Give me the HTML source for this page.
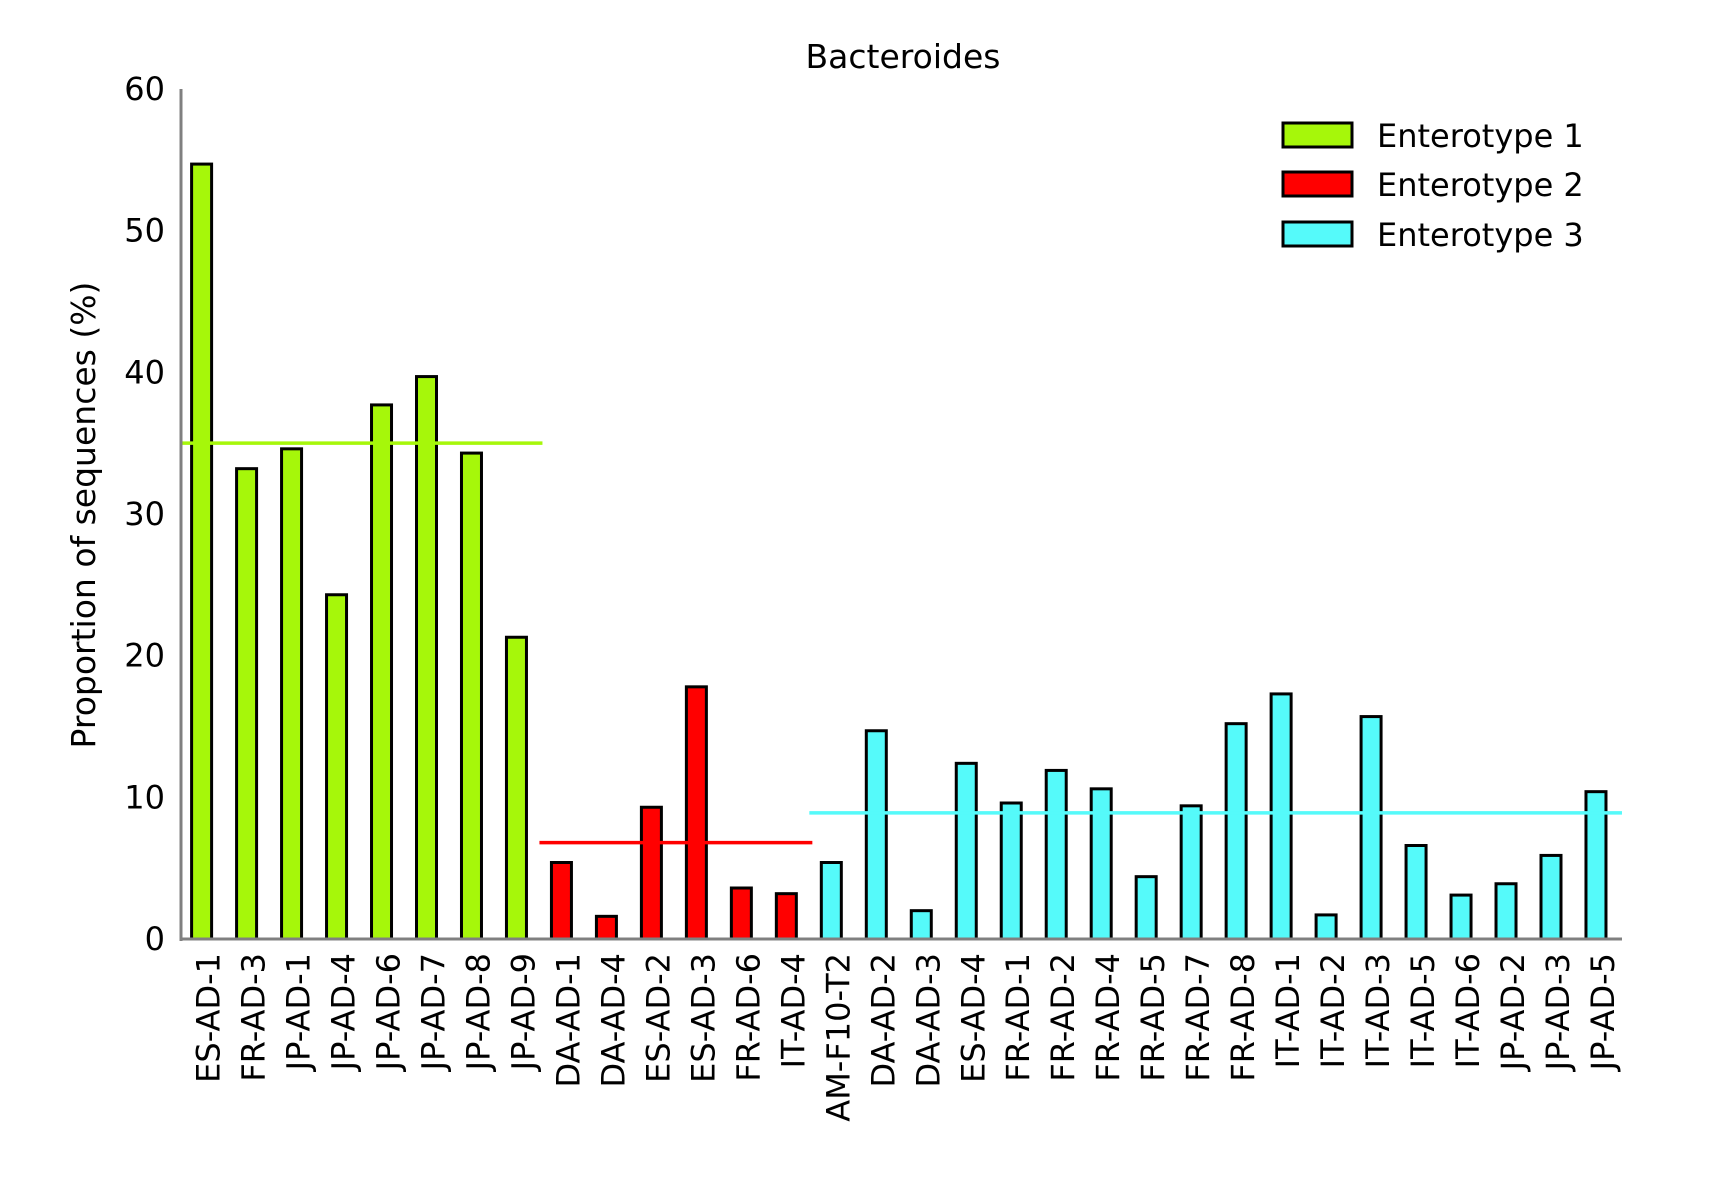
<!DOCTYPE html>
<html><head><meta charset="utf-8"><style>body{margin:0;background:#fff}svg{display:block;font-family:"DejaVu Sans","Liberation Sans",sans-serif}</style></head>
<body>
<svg id="chart" width="1709" height="1200">
<text x="903" y="68" font-size="33" text-anchor="middle">Bacteroides</text>
<text transform="translate(95,515) rotate(-90)" font-size="33" text-anchor="middle">Proportion of sequences (%)</text>
<g id="marks"></g>
<g>
<rect x="1283" y="123" width="69" height="24" fill="#a6f70a" stroke="#000" stroke-width="3"/>
<text x="1377" y="147" font-size="32">Enterotype 1</text>
<rect x="1283" y="172" width="69" height="24" fill="#ff0000" stroke="#000" stroke-width="3"/>
<text x="1377" y="196" font-size="32">Enterotype 2</text>
<rect x="1283" y="222" width="69" height="24" fill="#55fafa" stroke="#000" stroke-width="3"/>
<text x="1377" y="246" font-size="32">Enterotype 3</text>
</g>
</svg>
<script>
const categories=["ES-AD-1","FR-AD-3","JP-AD-1","JP-AD-4","JP-AD-6","JP-AD-7","JP-AD-8","JP-AD-9","DA-AD-1","DA-AD-4","ES-AD-2","ES-AD-3","FR-AD-6","IT-AD-4","AM-F10-T2","DA-AD-2","DA-AD-3","ES-AD-4","FR-AD-1","FR-AD-2","FR-AD-4","FR-AD-5","FR-AD-7","FR-AD-8","IT-AD-1","IT-AD-2","IT-AD-3","IT-AD-5","IT-AD-6","JP-AD-2","JP-AD-3","JP-AD-5"];
const values=[54.7,33.2,34.6,24.3,37.7,39.7,34.3,21.3,5.4,1.6,9.3,17.8,3.6,3.2,5.4,14.7,2.0,12.4,9.6,11.9,10.6,4.4,9.4,15.2,17.3,1.7,15.7,6.6,3.1,3.9,5.9,10.4];
const groups=[1,1,1,1,1,1,1,1,2,2,2,2,2,2,3,3,3,3,3,3,3,3,3,3,3,3,3,3,3,3,3,3];
const groupMeans=[35.0,6.8,8.9];
const yTicks=[0,10,20,30,40,50,60];
const colors={1:"#a6f70a",2:"#ff0000",3:"#55fafa"};
const NS="http://www.w3.org/2000/svg";
const g=document.getElementById("marks");
const X0=181,X1=1622,Y0=939,YT=89,first=201.6,step=44.98,bw=20;
const y=v=>Y0-(v/60)*(Y0-YT);
const x=i=>first+i*step;
function mk(t,a){const e=document.createElementNS(NS,t);for(const k in a)e.setAttribute(k,a[k]);g.appendChild(e);return e;}
values.forEach((v,i)=>{
 const r=mk("rect",{x:x(i)-bw/2,y:y(v),width:bw,height:Y0-y(v),fill:colors[groups[i]],stroke:"#000","stroke-width":3});
 
 
 const t=mk("text",{transform:`translate(${x(i)+18},953) rotate(-90)`,"font-size":"32","text-anchor":"end"});
 t.textContent=categories[i];
 
 
});
[1,2,3].forEach((gr,k)=>{
 const idx=groups.map((v,i)=>v===gr?i:-1).filter(i=>i>=0);
 const l=mk("line",{x1:x(idx[0])-22,x2:x(idx[idx.length-1])+26,y1:y(groupMeans[k]),y2:y(groupMeans[k]),stroke:colors[gr],"stroke-width":3.5});
 
 
});
const ya=mk("line",{x1:X0,x2:X0,y1:YT,y2:Y0+2,stroke:"#808080","stroke-width":3});


const xa=mk("line",{x1:X0-1,x2:X1,y1:Y0,y2:Y0,stroke:"#808080","stroke-width":3});


yTicks.forEach(v=>{
 const t=mk("text",{x:X0-16,y:y(v)+11,"font-size":"32","text-anchor":"end"});
 t.textContent=v;
 
 
});
</script>
</body></html>
